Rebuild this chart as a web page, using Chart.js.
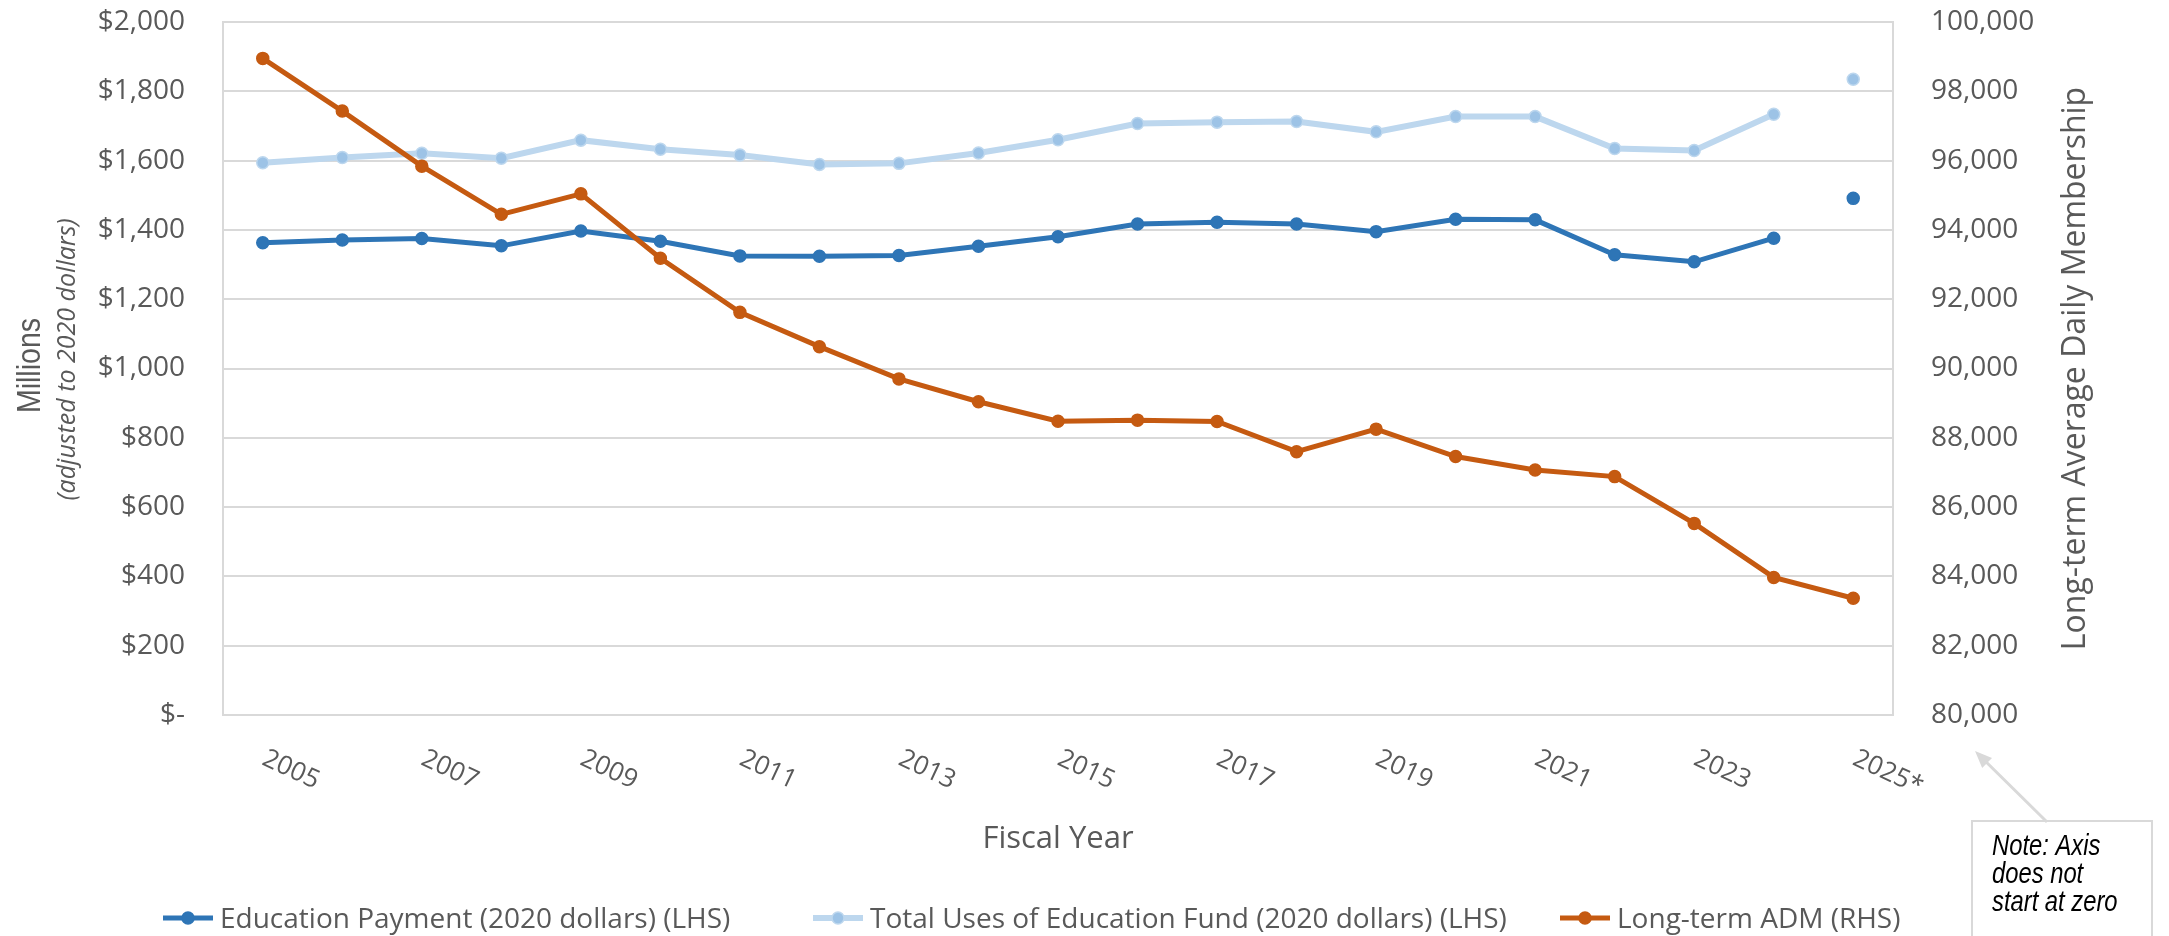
<!DOCTYPE html>
<html><head><meta charset="utf-8">
<script src="https://cdn.jsdelivr.net/npm/chart.js@4.4.1/dist/chart.umd.min.js"></script>
<style>html,body{margin:0;padding:0;background:#fff;}#wrap{width:2169px;height:936px;position:relative;}</style>
</head><body><div id="wrap"><canvas id="c" width="2169" height="936"></canvas></div>
<script>
// ---- data ----
const categories = ['2005','2006','2007','2008','2009','2010','2011','2012','2013','2014','2015','2016','2017','2018','2019','2020','2021','2022','2023','2024','2025*'];
const educationPayment = [1363,1371,1375,1354,1397,1367,1325,1324,1326,1353,1380,1417,1422,1417,1395,1431,1429,1328,1308,1376,1491];
const totalUses = [1594,1609,1621,1607,1659,1633,1616,1589,1592,1622,1660,1707,1711,1713,1683,1727,1727,1635,1629,1734,1835];
const longTermADM = [98950,97430,95840,94450,95040,93180,91620,90630,89700,89040,88480,88510,88470,87600,88250,87460,87070,86880,85530,83970,83370];
const leftTickLabels = ['$-','$200','$400','$600','$800','$1,000','$1,200','$1,400','$1,600','$1,800','$2,000'];
const rightTickLabels = ['80,000','82,000','84,000','86,000','88,000','90,000','92,000','94,000','96,000','98,000','100,000'];
const seriesNames = ['Education Payment (2020 dollars) (LHS)','Total Uses of Education Fund (2020 dollars) (LHS)','Long-term ADM (RHS)'];

const GRID = '#D9D9D9', TEXT = '#595959';
const FONT = '"Open Sans", "Noto Sans", sans-serif';
const NARROW = '"Liberation Sans", Arial, sans-serif';
const lastIdx = categories.length - 1;
const hideLast = ctx => ctx.p1DataIndex === lastIdx ? 'rgba(0,0,0,0)' : undefined;

const overlay = {
  id: 'overlay',
  afterDraw(chart) {
    const ctx = chart.ctx, xs = chart.scales.x, a = chart.chartArea;
    ctx.save();
    ctx.fillStyle = TEXT;
    // x tick labels (rotated clockwise)
    ctx.font = '26px ' + FONT;
    ctx.textAlign = 'left'; ctx.textBaseline = 'alphabetic';
    categories.forEach((lab, i) => {
      if (i % 2) return;
      const px = xs.getPixelForValue(i);
      ctx.save();
      ctx.translate(px - 2, a.bottom + 49);
      ctx.rotate(25 * Math.PI / 180);
      ctx.fillText(lab, 0, 0);
      ctx.restore();
    });
    const cy = (a.top + a.bottom) / 2;
    // x title
    ctx.textAlign = 'center';
    ctx.font = '31px ' + FONT;
    ctx.fillText('Fiscal Year', (a.left + a.right) / 2, 848);
    // left titles
    ctx.save();
    ctx.translate(40, cy - 3); ctx.rotate(-Math.PI / 2); ctx.scale(0.84, 1);
    ctx.font = '34px ' + NARROW; ctx.fillText('Millions', 0, 0);
    ctx.restore();
    ctx.save();
    ctx.translate(75, cy - 9); ctx.rotate(-Math.PI / 2);
    ctx.font = 'italic 25px ' + FONT; ctx.fillText('(adjusted to 2020 dollars)', 0, 0);
    ctx.restore();
    // right title
    ctx.save();
    ctx.translate(2085, cy); ctx.rotate(-Math.PI / 2);
    ctx.font = '32px ' + FONT; ctx.fillText('Long-term Average Daily Membership', 0, 0);
    ctx.restore();
    // legend
    const starts = [163, 813, 1560];
    ctx.font = '28px ' + FONT; ctx.textAlign = 'left';
    chart.data.datasets.forEach((ds, i) => {
      const x0 = starts[i], ly = 918;
      ctx.strokeStyle = ds.borderColor; ctx.lineWidth = ds.borderWidth;
      ctx.beginPath(); ctx.moveTo(x0, ly); ctx.lineTo(x0 + 50, ly); ctx.stroke();
      ctx.fillStyle = ds.pointBackgroundColor; ctx.strokeStyle = ds.pointBorderColor; ctx.lineWidth = 1.5;
      ctx.beginPath(); ctx.arc(x0 + 25, ly, 6, 0, Math.PI * 2); ctx.fill(); ctx.stroke();
      ctx.fillStyle = TEXT;
      ctx.fillText(ds.label, x0 + 57, 928);
    });
    // note box + arrow
    ctx.strokeStyle = GRID; ctx.fillStyle = '#fff'; ctx.lineWidth = 2;
    ctx.fillRect(1972, 821, 180, 130); ctx.strokeRect(1972, 821, 180, 130);
    ctx.lineWidth = 3;
    const tx = 1975, ty = 751, fx = 2047, fy = 822;
    const ang = Math.atan2(ty - fy, tx - fx);
    ctx.beginPath(); ctx.moveTo(fx, fy); ctx.lineTo(tx - 10 * Math.cos(ang), ty - 10 * Math.sin(ang)); ctx.stroke();
    ctx.fillStyle = GRID;
    ctx.beginPath(); ctx.moveTo(tx, ty);
    ctx.lineTo(tx - 17 * Math.cos(ang) + 7 * Math.sin(ang), ty - 17 * Math.sin(ang) - 7 * Math.cos(ang));
    ctx.lineTo(tx - 17 * Math.cos(ang) - 7 * Math.sin(ang), ty - 17 * Math.sin(ang) + 7 * Math.cos(ang));
    ctx.closePath(); ctx.fill();
    ctx.fillStyle = '#000';
    ctx.font = 'italic 29px ' + NARROW;
    ['Note: Axis', 'does not', 'start at zero'].forEach((t, i) => {
      ctx.save(); ctx.translate(1992, 855 + i * 28); ctx.scale(0.82, 1); ctx.fillText(t, 0, 0); ctx.restore();
    });
    ctx.restore();
  }
};

const fitY = w => s => { s.width = w; s.paddingTop = 0; s.paddingBottom = 0; };

new Chart(document.getElementById('c'), {
  type: 'line',
  data: {
    labels: categories,
    datasets: [
      { label: seriesNames[0], data: educationPayment, yAxisID: 'yL', order: 2,
        borderColor: '#2E75B6', borderWidth: 5, pointBackgroundColor: '#2E75B6', pointBorderColor: '#2E75B6',
        pointRadius: 6, pointBorderWidth: 1.5, segment: { borderColor: hideLast } },
      { label: seriesNames[1], data: totalUses, yAxisID: 'yL', order: 1,
        borderColor: '#BDD7EE', borderWidth: 6, pointBackgroundColor: '#9DC3E6', pointBorderColor: '#BDD7EE',
        pointRadius: 6, pointBorderWidth: 1.5, segment: { borderColor: hideLast } },
      { label: seriesNames[2], data: longTermADM, yAxisID: 'yR', order: 0,
        borderColor: '#C55A11', borderWidth: 5, pointBackgroundColor: '#C55A11', pointBorderColor: '#C55A11',
        pointRadius: 6, pointBorderWidth: 1.5 }
    ]
  },
  options: {
    responsive: false, animation: false, devicePixelRatio: 1,
    layout: { padding: { top: 22, left: 0, right: 0, bottom: 0 } },
    plugins: { legend: { display: false }, tooltip: { enabled: false } },
    scales: {
      x: { offset: true, grid: { display: false }, border: { display: true, color: GRID, width: 2 },
           ticks: { display: false }, afterFit: s => { s.height = 221; } },
      yL: { position: 'left', min: 0, max: 2000,
            grid: { color: GRID, lineWidth: 2, drawTicks: false }, border: { display: true, color: GRID, width: 2 },
            ticks: { stepSize: 200, padding: 38, color: TEXT, font: { family: FONT, size: 28 },
                     callback: (v, i) => leftTickLabels[i] },
            afterFit: fitY(223) },
      yR: { position: 'right', min: 80000, max: 100000,
            grid: { display: false, drawTicks: false }, border: { display: true, color: GRID, width: 2 },
            ticks: { stepSize: 2000, padding: 38, color: TEXT, font: { family: FONT, size: 28 },
                     callback: (v, i) => rightTickLabels[i] },
            afterFit: fitY(276) }
    }
  },
  plugins: [overlay]
});
</script></body></html>
